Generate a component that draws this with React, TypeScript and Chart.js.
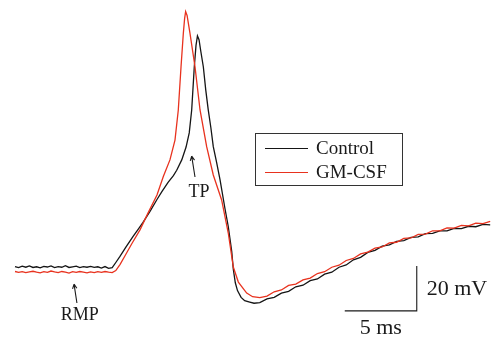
import React, { useEffect, useRef } from "react";
import { Chart, registerables } from "chart.js";

Chart.register(...registerables);

// ---- Data (time in ms, membrane potential in mV) ----
const baselineTimes = [
  0, 0.25, 0.5, 0.75, 1, 1.25, 1.5, 1.75, 2, 2.25, 2.5, 2.75, 3, 3.25, 3.5, 3.75,
  4, 4.25, 4.5, 4.75, 5, 5.25, 5.5, 5.75, 6, 6.25, 6.5, 6.75,
];
const controlBaseline = [
  -59.8, -60.3, -59.6, -60.1, -59.5, -60.2, -59.9, -60.4, -59.7, -60.0, -59.5, -60.3,
  -59.8, -60.1, -59.4, -60.2, -59.9, -59.6, -60.3, -59.8, -60.1, -59.7, -60.2, -59.9,
  -60.5, -59.8, -60.6, -60.3,
];
const gmcsfBaseline = [
  -62.0, -62.4, -62.1, -62.5, -62.2, -61.9, -62.3, -62.6, -62.1, -62.4, -61.8, -62.2,
  -62.5, -62.0, -62.3, -62.7, -62.1, -62.4, -62.0, -62.3, -62.6, -62.2, -62.5, -62.1,
  -62.4, -62.0, -62.3, -62.5,
];

const controlSpikeTimes = [
  7.0, 7.29, 7.7, 8.19, 8.6, 8.89, 9.375, 9.86, 10.2, 10.63, 11.0, 11.23, 11.58, 11.88,
  12.1, 12.27, 12.45, 12.57, 12.67, 12.78, 12.9, 13.08, 13.25, 13.42, 13.6, 13.77, 14.0,
  14.24, 14.58, 14.81, 15.05, 15.16, 15.3, 15.45, 15.7, 15.95, 16.3, 16.6,
];
const controlSpikeMv = [
  -58.0, -55.3, -51.2, -46.5, -42.8, -40.2, -35.3, -30.0, -26.5, -22.4, -19.4, -17.0,
  -12.4, -6.7, -0.4, 9.8, 28.9, 38.5, 42.7, 41.0, 36.0, 28.9, 18.5, 9.8, 2.0, -6.5,
  -13.5, -21.3, -34.0, -42.0, -53.0, -61.0, -67.0, -70.5, -73.5, -75.0, -75.6, -76.1,
];

const gmcsfSpikeTimes = [
  7.0, 7.3, 7.64, 8.1, 8.68, 9.2, 9.86, 10.3, 10.76, 11.11, 11.34, 11.53, 11.69, 11.78,
  11.85, 11.95, 12.15, 12.5, 12.85, 13.31, 13.77, 14.35, 14.81, 15.16, 15.51, 16.09, 16.5,
];
const gmcsfSpikeMv = [
  -61.6, -58.8, -55.0, -49.8, -43.5, -36.5, -28.0, -19.8, -12.4, -3.6, 9.8, 29.0, 43.9,
  50.5, 53.5, 51.8, 43.9, 29.0, 9.8, -6.5, -19.1, -30.2, -44.9, -60.0, -66.7, -71.6, -73.2,
];

const recoveryTimes = [
  17, 17.5, 18, 18.5, 19, 19.5, 20, 20.5, 21, 21.5, 22, 22.5, 23, 23.5, 24, 24.5, 25,
  25.5, 26, 26.5, 27, 27.5, 28, 28.5, 29, 29.5, 30, 30.5, 31, 31.5, 32, 32.5, 33,
];
const controlRecovery = [
  -75.8, -74.2, -73.5, -71.6, -70.8, -68.8, -68.1, -66.1, -65.3, -63.2, -62.3, -60.1,
  -59.1, -56.8, -55.7, -53.5, -52.6, -50.7, -50.2, -48.6, -48.3, -46.8, -46.6, -45.2,
  -45.1, -43.9, -43.9, -42.8, -42.9, -41.9, -42.1, -41.1, -41.3,
];
const gmcsfRecovery = [
  -73.6, -72.9, -71.0, -70.2, -68.2, -67.6, -65.7, -64.9, -62.9, -62.1, -60.1, -59.2,
  -57.1, -56.2, -54.2, -53.4, -51.6, -51.1, -49.3, -49.0, -47.3, -47.1, -45.5, -45.4,
  -43.9, -43.9, -42.6, -42.7, -41.5, -41.7, -40.5, -40.7, -39.7,
];

const seriesLabels = ["Control", "GM-CSF"];
const seriesColors = ["#151515", "#e8321e"];

// scale bar sizes and corner
const scaleBarMs = 5;
const scaleBarMv = 20;
const scaleBarCornerMs = 27.9;
const scaleBarCornerMv = -79.5;

// annotation anchors (data units)
const rmpArrow = { headT: 4.1, headV: -67.6, tailT: 4.3, tailV: -76.0, labelT: 4.5, labelV: -81.4 };
const tpArrow = { headT: 12.27, headV: -10.7, tailT: 12.5, tailV: -20.0, labelT: 12.78, labelV: -26.8 };

function buildPoints(ts: number[], vs: number[]) {
  return ts.map((t, i) => ({ x: t, y: vs[i] }));
}

const controlPoints = [
  ...buildPoints(baselineTimes, controlBaseline),
  ...buildPoints(controlSpikeTimes, controlSpikeMv),
  ...buildPoints(recoveryTimes, controlRecovery),
];
const gmcsfPoints = [
  ...buildPoints(baselineTimes, gmcsfBaseline),
  ...buildPoints(gmcsfSpikeTimes, gmcsfSpikeMv),
  ...buildPoints(recoveryTimes, gmcsfRecovery),
];

const FONT = '"Liberation Serif", "Times New Roman", serif';

function drawArrow(ctx: CanvasRenderingContext2D, x1: number, y1: number, x2: number, y2: number) {
  ctx.beginPath();
  ctx.moveTo(x1, y1);
  ctx.lineTo(x2, y2);
  const ang = Math.atan2(y2 - y1, x2 - x1);
  const len = 5;
  ctx.moveTo(x2, y2);
  ctx.lineTo(x2 - len * Math.cos(ang - 0.45), y2 - len * Math.sin(ang - 0.45));
  ctx.moveTo(x2, y2);
  ctx.lineTo(x2 - len * Math.cos(ang + 0.45), y2 - len * Math.sin(ang + 0.45));
  ctx.stroke();
}

const annotationPlugin = {
  id: "apAnnotations",
  afterDatasetsDraw(chart: any) {
    const ctx: CanvasRenderingContext2D = chart.ctx;
    const xs = chart.scales.x;
    const ys = chart.scales.y;
    const px = (t: number) => xs.getPixelForValue(t);
    const py = (v: number) => ys.getPixelForValue(v);
    ctx.save();
    ctx.strokeStyle = "#1a1a1a";
    ctx.fillStyle = "#1a1a1a";
    ctx.lineWidth = 1.1;

    // RMP
    drawArrow(ctx, px(rmpArrow.tailT), py(rmpArrow.tailV), px(rmpArrow.headT), py(rmpArrow.headV));
    ctx.font = `18px ${FONT}`;
    ctx.textAlign = "center";
    ctx.textBaseline = "middle";
    ctx.fillText("RMP", px(rmpArrow.labelT), py(rmpArrow.labelV));

    // TP
    drawArrow(ctx, px(tpArrow.tailT), py(tpArrow.tailV), px(tpArrow.headT), py(tpArrow.headV));
    ctx.fillText("TP", px(tpArrow.labelT), py(tpArrow.labelV));

    // scale bar labels
    ctx.font = `22px ${FONT}`;
    ctx.textAlign = "left";
    ctx.fillText(
      `${scaleBarMv} mV`,
      px(scaleBarCornerMs) + 10,
      py(scaleBarCornerMv + scaleBarMv / 2) + 1
    );
    ctx.textAlign = "center";
    ctx.fillText(
      `${scaleBarMs} ms`,
      px(scaleBarCornerMs - scaleBarMs / 2),
      py(scaleBarCornerMv) + 17
    );

    // legend box
    const bx = 255, by = 133, bw = 147, bh = 52;
    ctx.strokeStyle = "#333";
    ctx.lineWidth = 1;
    ctx.strokeRect(bx + 0.5, by + 0.5, bw, bh);
    ctx.font = `19px ${FONT}`;
    ctx.textAlign = "left";
    seriesLabels.forEach((lab, i) => {
      const yy = by + 15 + i * 24;
      ctx.strokeStyle = seriesColors[i];
      ctx.lineWidth = 1.2;
      ctx.beginPath();
      ctx.moveTo(bx + 10, yy + 0.5);
      ctx.lineTo(bx + 53, yy + 0.5);
      ctx.stroke();
      ctx.fillStyle = "#1a1a1a";
      ctx.fillText(lab, bx + 61, yy + 1);
    });
    ctx.restore();
  },
};

export default function App() {
  const ref = useRef<HTMLCanvasElement>(null);
  useEffect(() => {
    document.body.style.margin = "0";
    const canvas = ref.current;
    if (!canvas) return;
    const chart = new Chart(canvas, {
      type: "line",
      data: {
        datasets: [
          {
            label: seriesLabels[1],
            data: gmcsfPoints,
            borderColor: seriesColors[1],
            borderWidth: 1.3,
            pointRadius: 0,
            fill: false,
          },
          {
            label: seriesLabels[0],
            data: controlPoints,
            borderColor: seriesColors[0],
            borderWidth: 1.3,
            pointRadius: 0,
            fill: false,
          },
          {
            label: "scale",
            data: [
              { x: scaleBarCornerMs - scaleBarMs, y: scaleBarCornerMv },
              { x: scaleBarCornerMs, y: scaleBarCornerMv },
              { x: scaleBarCornerMs, y: scaleBarCornerMv + scaleBarMv },
            ],
            borderColor: "#1a1a1a",
            borderWidth: 1.1,
            pointRadius: 0,
            fill: false,
          },
        ],
      },
      options: {
        responsive: false,
        animation: false,
        devicePixelRatio: 1,
        layout: { padding: 0 },
        plugins: { legend: { display: false }, tooltip: { enabled: false } },
        elements: { line: { tension: 0 } },
        scales: {
          x: { type: "linear", display: false, min: -1.0417, max: 33.264 },
          y: { type: "linear", display: false, min: -92.444, max: 58.667 },
        },
      },
      plugins: [annotationPlugin],
    });
    return () => chart.destroy();
  }, []);
  return <canvas ref={ref} width={494} height={340} style={{ display: "block" }} />;
}
